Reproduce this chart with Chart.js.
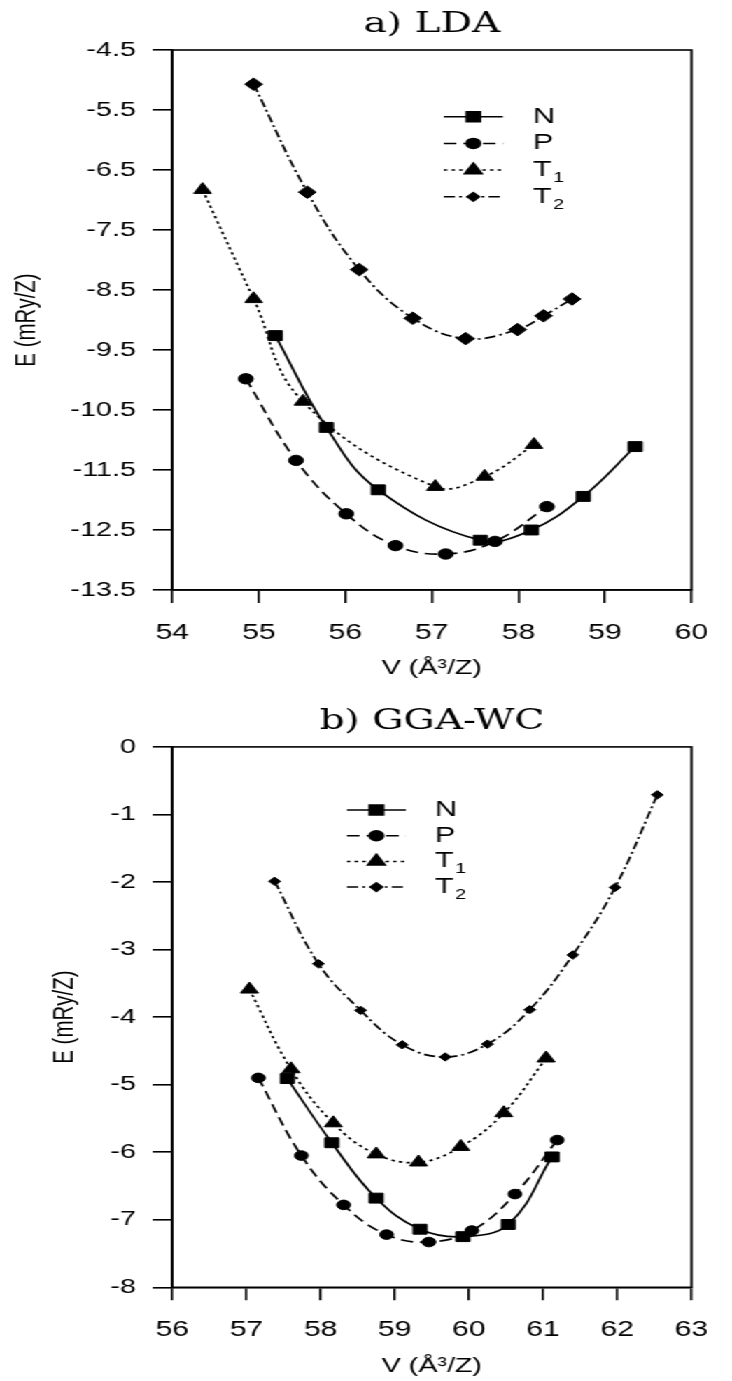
<!DOCTYPE html>
<html>
<head>
<meta charset="utf-8">
<script src="https://cdn.jsdelivr.net/npm/chart.js@4.4.0/dist/chart.umd.min.js"></script>
<style>
html, body { margin: 0; padding: 0; background: #fff; overflow: hidden; }
#wrap { width: 523px; height: 1381px; transform: scaleX(1.3996); transform-origin: 0 0; }
canvas { display: block; }
</style>
</head>
<body>
<div id="wrap">
    <canvas id="lda" width="523" height="690" style="width:523px;height:690px"></canvas>
    <canvas id="gga" width="523" height="691" style="width:523px;height:691px"></canvas>
</div>
<script>
// a) LDA  (V in A^3/Z, E in mRy/Z)
var ldaNv  = [55.19, 55.78, 56.38, 57.56, 58.15, 58.75, 59.35];
var ldaNe  = [-9.26, -10.79, -11.83, -12.67, -12.50, -11.94, -11.11];
var ldaPv  = [54.85, 55.43, 56.01, 56.58, 57.16, 57.73, 58.33];
var ldaPe  = [-9.98, -11.34, -12.23, -12.76, -12.90, -12.69, -12.11];
var ldaT1v = [54.35, 54.94, 55.51, 57.04, 57.61, 58.18];
var ldaT1e = [-6.83, -8.65, -10.36, -11.78, -11.61, -11.08];
var ldaT2v = [54.94, 55.56, 56.16, 56.78, 57.39, 57.99, 58.29, 58.62];
var ldaT2e = [-5.07, -6.87, -8.16, -8.97, -9.31, -9.16, -8.93, -8.65];

// b) GGA-WC
var ggaNv  = [57.55, 58.15, 58.75, 59.34, 59.92, 60.53, 61.12];
var ggaNe  = [-4.91, -5.86, -6.68, -7.14, -7.25, -7.07, -6.07];
var ggaPv  = [57.16, 57.74, 58.31, 58.89, 59.46, 60.04, 60.62, 61.19];
var ggaPe  = [-4.90, -6.05, -6.78, -7.22, -7.33, -7.16, -6.62, -5.82];
var ggaT1v = [57.04, 57.60, 58.17, 58.75, 59.32, 59.89, 60.47, 61.04];
var ggaT1e = [-3.59, -4.77, -5.57, -6.03, -6.15, -5.92, -5.42, -4.61];
var ggaT2v = [57.38, 57.97, 58.54, 59.10, 59.68, 60.25, 60.82, 61.40, 61.97, 62.54];
var ggaT2e = [-1.99, -3.21, -3.90, -4.41, -4.59, -4.40, -3.89, -3.08, -2.08, -0.71];

var seriesNames = ['N', 'P', 'T1', 'T2'];
var ldaTicksY = { min: -13.5, max: -4.5, step: 1 };
var ldaTicksX = { min: 54, max: 60, step: 1 };
var ggaTicksY = { min: -8, max: 0, step: 1 };
var ggaTicksX = { min: 56, max: 63, step: 1 };

function pts(vs, es) {
    return vs.map(function(v, i){ return { x: v, y: es[i] }; });
}

var styles = [
    { pointStyle: 'rect',     dash: [],            legendR: 7 },
    { pointStyle: 'circle',   dash: [9, 5],        legendR: 5 },
    { pointStyle: 'triangle', dash: [2.5, 3],      legendR: 7.2 },
    { pointStyle: 'rectRot',  dash: [8, 3, 2, 3],  legendR: 4.3 }
];

function makeSets(list, radii) {
    return list.map(function(d, i){
        return {
            label: seriesNames[i],
            data: d,
            borderColor: '#000',
            backgroundColor: '#000',
            borderWidth: 1.7,
            borderDash: styles[i].dash,
            tension: 0.4,
            pointStyle: styles[i].pointStyle,
            pointRadius: radii[i],
            pointBackgroundColor: '#000',
            pointBorderColor: '#000',
            pointBorderWidth: 1,
            legendR: styles[i].legendR
        };
    });
}

// line + marker legend, drawn inside the plot
var curveLegend = {
    id: 'curveLegend',
    afterDatasetsDraw: function(chart, args, o) {
        var ctx = chart.ctx;
        ctx.save();
        chart.data.datasets.forEach(function(ds, i){
            var y = o.y + i * o.gap;
            ctx.strokeStyle = '#000';
            ctx.fillStyle = '#000';
            ctx.lineWidth = 1.5;
            ctx.setLineDash(ds.borderDash);
            ctx.beginPath();
            ctx.moveTo(o.x, y);
            ctx.lineTo(o.x + o.len, y);
            ctx.stroke();
            ctx.setLineDash([]);
            Chart.helpers.drawPoint(ctx, { pointStyle: ds.pointStyle, radius: ds.legendR, borderWidth: 1, rotation: 0 }, o.x + o.len / 2, y);
            ctx.textBaseline = 'middle';
            ctx.textAlign = 'left';
            ctx.font = '22px "Liberation Sans"';
            var name = ds.label;
            ctx.fillText(name.charAt(0), o.textX, y);
            if (name.length > 1) {
                var w = ctx.measureText(name.charAt(0)).width;
                ctx.font = '14px "Liberation Sans"';
                ctx.fillText(name.slice(1), o.textX + w + 1, y + 8);
            }
        });
        ctx.restore();
    }
};

// closed frame round the plot
var frame = {
    id: 'frame',
    afterDraw: function(chart) {
        var a = chart.chartArea, ctx = chart.ctx;
        ctx.save();
        ctx.strokeStyle = '#000';
        ctx.lineWidth = 1.6;
        ctx.strokeRect(a.left, a.top, a.right - a.left, a.bottom - a.top);
        ctx.restore();
    }
};

function makeChart(id, opt) {
    var titleFont = { family: 'Liberation Sans', size: 20.5 };
    return new Chart(document.getElementById(id), {
        type: 'line',
        data: { datasets: opt.sets },
        options: {
            responsive: false,
            animation: false,
            layout: { padding: { left: opt.padLeft, right: 14.6, top: 0, bottom: 0 } },
            plugins: {
                legend: { display: false },
                tooltip: { enabled: false },
                title: {
                    display: true, text: opt.title, fullSize: false, color: '#000',
                    font: { family: 'DejaVu Serif', size: 28, weight: 'normal' },
                    padding: opt.titlePad
                },
                curveLegend: opt.legend
            },
            scales: {
                x: {
                    type: 'linear', min: opt.tx.min, max: opt.tx.max,
                    ticks: { stepSize: opt.tx.step, color: '#000', font: { family: 'Liberation Sans', size: 21.5 }, padding: 17, maxRotation: 0, autoSkip: false },
                    grid: { drawOnChartArea: false, drawTicks: true, tickLength: 13, color: '#000', lineWidth: 1.6 },
                    border: { color: '#000', width: 1.6 },
                    title: { display: true, text: 'V (Å³/Z)', color: '#000', font: titleFont, padding: { top: 0, bottom: opt.xTitleBottom } },
                    afterFit: function(s){ s.height = opt.xHeight; }
                },
                y: {
                    min: opt.ty.min, max: opt.ty.max,
                    ticks: {
                        stepSize: opt.ty.step, color: '#000', font: { family: 'Liberation Sans', size: 20.5 }, padding: 12,
                        callback: function(v){ return opt.ty.min % 1 ? v.toFixed(1) : String(Math.round(v)); }
                    },
                    grid: { drawOnChartArea: false, drawTicks: true, tickLength: 14, color: '#000', lineWidth: 1.6 },
                    border: { color: '#000', width: 1.6 },
                    title: { display: true, text: 'E (mRy/Z)', color: '#000', font: titleFont, padding: { top: 7.5, bottom: 0 } },
                    afterFit: function(s){ s.width = opt.yWidth; }
                }
            }
        },
        plugins: [curveLegend, frame]
    });
}

makeChart('lda', {
    title: 'a) LDA',
    titlePad: { top: 8.2, bottom: 8.2 },
    sets: makeSets([pts(ldaNv, ldaNe), pts(ldaPv, ldaPe), pts(ldaT1v, ldaT1e), pts(ldaT2v, ldaT2e)], [7, 5.2, 7.2, 6.3]),
    tx: ldaTicksX, ty: ldaTicksY,
    padLeft: 0, yWidth: 123.1,
    xHeight: 100, xTitleBottom: 9,
    legend: { x: 317.1, len: 42.2, y: 116.7, gap: 26.7, textX: 380.7 }
});

makeChart('gga', {
    title: 'b) GGA-WC',
    titlePad: { top: 15.2, bottom: 8.1 },
    sets: makeSets([pts(ggaNv, ggaNe), pts(ggaPv, ggaPe), pts(ggaT1v, ggaT1e), pts(ggaT2v, ggaT2e)], [7, 4.8, 7.3, 4.2]),
    tx: ggaTicksX, ty: ggaTicksY,
    padLeft: 26.6, yWidth: 96.5,
    xHeight: 93.7, xTitleBottom: 2,
    legend: { x: 247.9, len: 42.1, y: 120, gap: 25.7, textX: 310.7 }
});
</script>
</body>
</html>
